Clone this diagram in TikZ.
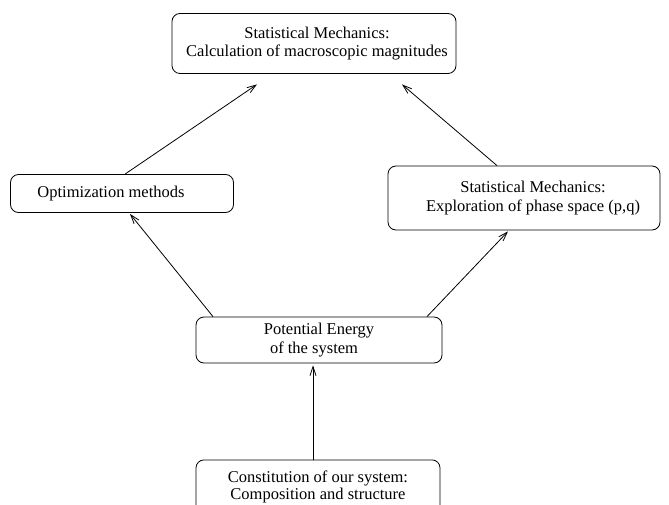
\documentclass[tikz,border=0pt]{standalone}
\usepackage{fontspec}
\setmainfont{Liberation Serif}
\usetikzlibrary{arrows.meta}
\begin{document}
\begin{tikzpicture}[x=1pt,y=-1pt,
  box/.style={draw,rounded corners=8pt,line width=0.8pt,align=center,inner sep=0pt,font=\fontsize{16.5}{19.5}\selectfont},
  conn/.style={line width=0.8pt,-{Straight Barb[length=9pt,width=6pt]}}]
\useasboundingbox (0,0) rectangle (669,505);
\clip (0,0) rectangle (669,505);
\node[box,minimum width=284pt,minimum height=60pt] (top) at (314,43.5) {\raisebox{-3pt}{\begin{tabular}{@{}c@{}}\hspace*{6pt}Statistical Mechanics:\\[-1pt] \hspace*{6pt}Calculation of macroscopic magnitudes\end{tabular}}};
\node[box,minimum width=223pt,minimum height=38pt] (opt) at (122,193.5) {Optimization methods\hspace*{22pt}};
\node[box,minimum width=272pt,minimum height=64pt] (ph) at (524,198) {\hspace*{18pt}Statistical Mechanics:\\ \hspace*{18pt}Exploration of phase space (p,q)};
\node[box,minimum width=246pt,minimum height=46pt] (pot) at (319,340) {Potential Energy\\ of the system\hspace*{10pt}};
\node[box,minimum width=244pt,minimum height=70pt,anchor=north] (con) at (318,459.5) {\raisebox{28pt}{\fontsize{16.5}{18}\selectfont\begin{tabular}{@{}c@{}}Constitution of our system:\\[-1.5pt] Composition and structure\end{tabular}}};
\draw[conn] ([xshift=3pt]opt.north) -- ([xshift=-57pt,yshift=-10.5pt]top.south);
\draw[conn] ([xshift=-27pt]ph.north) -- ([xshift=88pt,yshift=-10.5pt]top.south);
\draw[conn] ([xshift=-106pt]pot.north) -- ([xshift=8pt,yshift=-1pt]opt.south);
\draw[conn] ([xshift=108pt]pot.north) -- ([xshift=-16pt,yshift=-1pt]ph.south);
\draw[conn] ([xshift=-5pt]con.north) -- ([xshift=-6pt,yshift=-2pt]pot.south);
\end{tikzpicture}
\end{document}
